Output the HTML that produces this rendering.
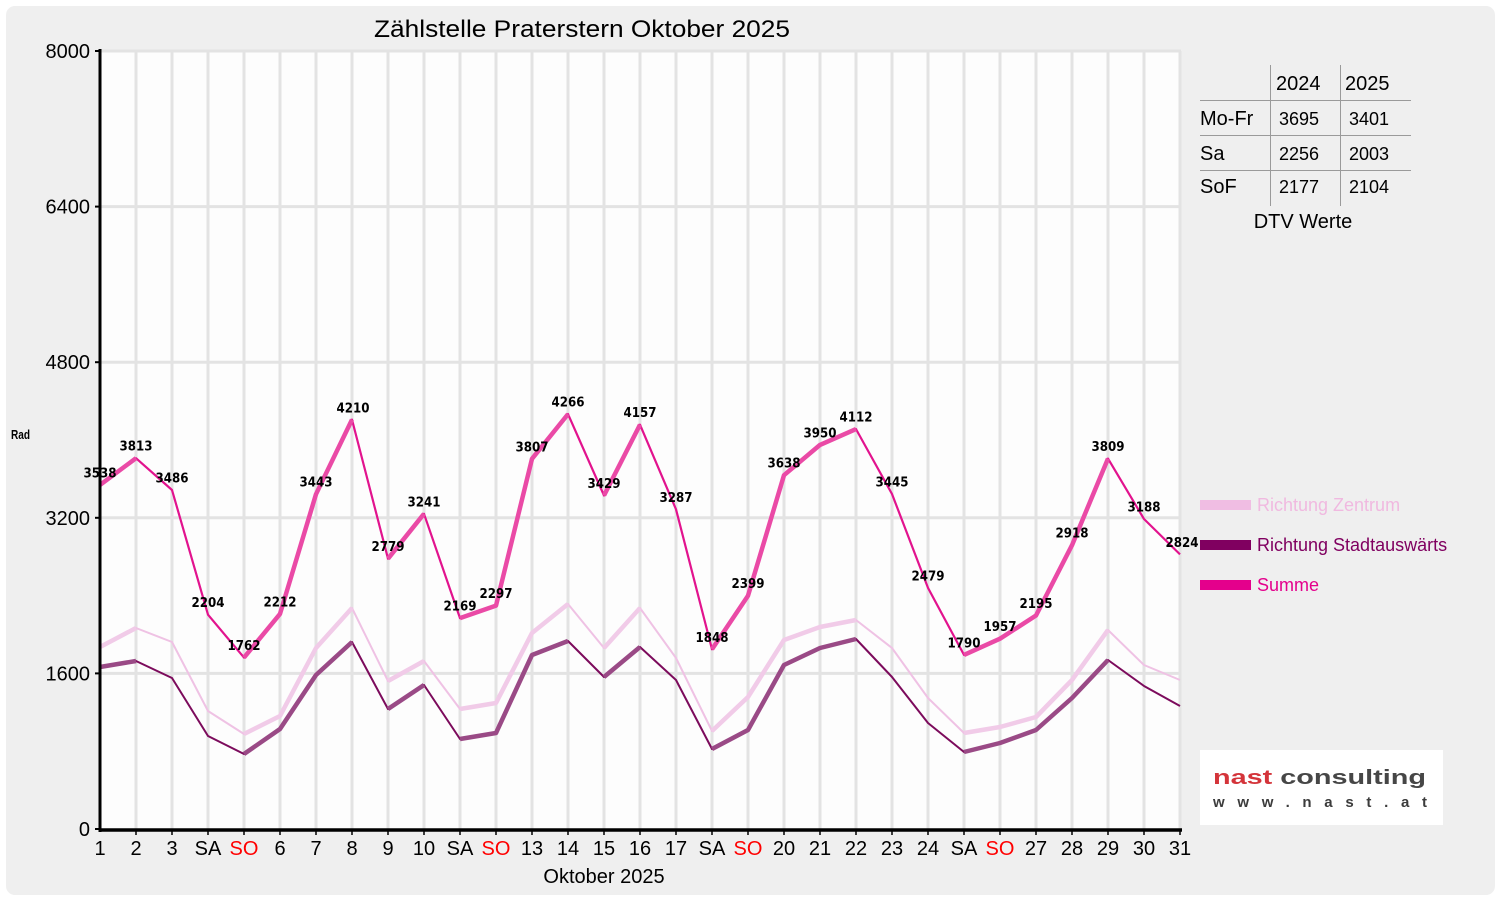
<!DOCTYPE html>
<html><head><meta charset="utf-8"><style>
html,body{margin:0;padding:0;background:#fff;}
svg{display:block;}
text{font-family:"Liberation Sans","DejaVu Sans",sans-serif;}
.lbl{font-family:"DejaVu Sans","Liberation Sans",sans-serif;font-weight:bold;font-size:13.5px;fill:#000;text-anchor:middle;}
.tk{font-size:20px;fill:#000;}
</style></head><body>
<svg width="1500" height="900" viewBox="0 0 1500 900" xmlns="http://www.w3.org/2000/svg">
<rect x="0" y="0" width="1500" height="900" fill="#ffffff"/>
<rect x="6" y="6" width="1489" height="889" rx="9" ry="9" fill="#efefef"/>
<rect x="100" y="51" width="1081" height="778" fill="#fdfdfd"/>
<g stroke="#e3e3e3" stroke-width="3">
<line x1="136" y1="51" x2="136" y2="829"/><line x1="172" y1="51" x2="172" y2="829"/><line x1="208" y1="51" x2="208" y2="829"/><line x1="244" y1="51" x2="244" y2="829"/><line x1="280" y1="51" x2="280" y2="829"/><line x1="316" y1="51" x2="316" y2="829"/><line x1="352" y1="51" x2="352" y2="829"/><line x1="388" y1="51" x2="388" y2="829"/><line x1="424" y1="51" x2="424" y2="829"/><line x1="460" y1="51" x2="460" y2="829"/><line x1="496" y1="51" x2="496" y2="829"/><line x1="532" y1="51" x2="532" y2="829"/><line x1="568" y1="51" x2="568" y2="829"/><line x1="604" y1="51" x2="604" y2="829"/><line x1="640" y1="51" x2="640" y2="829"/><line x1="676" y1="51" x2="676" y2="829"/><line x1="712" y1="51" x2="712" y2="829"/><line x1="748" y1="51" x2="748" y2="829"/><line x1="784" y1="51" x2="784" y2="829"/><line x1="820" y1="51" x2="820" y2="829"/><line x1="856" y1="51" x2="856" y2="829"/><line x1="892" y1="51" x2="892" y2="829"/><line x1="928" y1="51" x2="928" y2="829"/><line x1="964" y1="51" x2="964" y2="829"/><line x1="1000" y1="51" x2="1000" y2="829"/><line x1="1036" y1="51" x2="1036" y2="829"/><line x1="1072" y1="51" x2="1072" y2="829"/><line x1="1108" y1="51" x2="1108" y2="829"/><line x1="1144" y1="51" x2="1144" y2="829"/><line x1="1180" y1="51" x2="1180" y2="829"/>
<line x1="100" y1="51" x2="1181" y2="51"/><line x1="100" y1="206.6" x2="1181" y2="206.6"/><line x1="100" y1="362.2" x2="1181" y2="362.2"/><line x1="100" y1="517.8" x2="1181" y2="517.8"/><line x1="100" y1="673.4" x2="1181" y2="673.4"/>
</g>
<!-- Zentrum -->
<polyline fill="none" stroke="#efc2e4" stroke-width="2" stroke-linejoin="round" points="100,647 136,628 172,642 208,711 244,734 280,716 316,648 352,608 388,681 424,661 460,709 496,703 532,633 568,604 604,648 640,608 676,658 712,731 748,697 784,640 820,627 856,620 892,648 928,698 964,733 1000,727 1036,717 1072,680 1108,630 1144,665 1180,680"/>
<path fill="none" stroke="#f1cbe8" stroke-width="4.5" stroke-linejoin="round" d="M100,647L136,628 M244,734L280,716L316,648L352,608 M388,681L424,661 M460,709L496,703L532,633L568,604 M604,648L640,608 M712,731L748,697L784,640L820,627L856,620 M964,733L1000,727L1036,717L1072,680L1108,630"/>
<!-- Stadtauswaerts -->
<polyline fill="none" stroke="#7c0b5c" stroke-width="2" stroke-linejoin="round" points="100,667 136,661 172,678 208,736 244,754 280,729 316,675 352,642 388,709 424,685 460,739 496,733 532,655 568,641 604,677 640,647 676,680 712,749 748,730 784,665 820,648 856,639 892,677 928,723 964,752 1000,743 1036,730 1072,698 1108,660 1144,686 1180,706"/>
<path fill="none" stroke="#9a4a86" stroke-width="4.5" stroke-linejoin="round" d="M100,667L136,661 M244,754L280,729L316,675L352,642 M388,709L424,685 M460,739L496,733L532,655L568,641 M604,677L640,647 M712,749L748,730L784,665L820,648L856,639 M964,752L1000,743L1036,730L1072,698L1108,660"/>
<!-- Summe -->
<polyline fill="none" stroke="#e2138e" stroke-width="2.2" stroke-linejoin="round" points="100,484.9 136,458.2 172,490.0 208,614.7 244,657.6 280,613.9 316,494.2 352,419.6 388,558.7 424,513.8 460,618.1 496,605.6 532,458.8 568,414.1 604,495.5 640,424.7 676,509.3 712,649.3 748,595.7 784,475.2 820,444.9 856,429.1 892,494.0 928,587.9 964,654.9 1000,638.7 1036,615.5 1072,545.2 1108,458.6 1144,519.0 1180,554.4"/>
<path fill="none" stroke="#ea4aa6" stroke-width="4.5" stroke-linejoin="round" d="M100,484.9L136,458.2 M244,657.6L280,613.9L316,494.2L352,419.6 M388,558.7L424,513.8 M460,618.1L496,605.6L532,458.8L568,414.1 M604,495.5L640,424.7 M712,649.3L748,595.7L784,475.2L820,444.9L856,429.1 M964,654.9L1000,638.7L1036,615.5L1072,545.2L1108,458.6"/>
<!-- value labels -->
<g>
<text class="lbl" x="100" y="477.4" textLength="33" lengthAdjust="spacingAndGlyphs">3538</text>
<text class="lbl" x="136" y="450.7" textLength="33" lengthAdjust="spacingAndGlyphs">3813</text>
<text class="lbl" x="172" y="482.5" textLength="33" lengthAdjust="spacingAndGlyphs">3486</text>
<text class="lbl" x="208" y="607.2" textLength="33" lengthAdjust="spacingAndGlyphs">2204</text>
<text class="lbl" x="244" y="650.1" textLength="33" lengthAdjust="spacingAndGlyphs">1762</text>
<text class="lbl" x="280" y="606.4" textLength="33" lengthAdjust="spacingAndGlyphs">2212</text>
<text class="lbl" x="316" y="486.7" textLength="33" lengthAdjust="spacingAndGlyphs">3443</text>
<text class="lbl" x="353" y="412.3" textLength="33" lengthAdjust="spacingAndGlyphs">4210</text>
<text class="lbl" x="388" y="551.2" textLength="33" lengthAdjust="spacingAndGlyphs">2779</text>
<text class="lbl" x="424" y="506.3" textLength="33" lengthAdjust="spacingAndGlyphs">3241</text>
<text class="lbl" x="460" y="610.6" textLength="33" lengthAdjust="spacingAndGlyphs">2169</text>
<text class="lbl" x="496" y="598.1" textLength="33" lengthAdjust="spacingAndGlyphs">2297</text>
<text class="lbl" x="532" y="451.3" textLength="33" lengthAdjust="spacingAndGlyphs">3807</text>
<text class="lbl" x="568" y="406.6" textLength="33" lengthAdjust="spacingAndGlyphs">4266</text>
<text class="lbl" x="604" y="488" textLength="33" lengthAdjust="spacingAndGlyphs">3429</text>
<text class="lbl" x="640" y="417.2" textLength="33" lengthAdjust="spacingAndGlyphs">4157</text>
<text class="lbl" x="676" y="501.8" textLength="33" lengthAdjust="spacingAndGlyphs">3287</text>
<text class="lbl" x="712" y="641.8" textLength="33" lengthAdjust="spacingAndGlyphs">1848</text>
<text class="lbl" x="748" y="588.2" textLength="33" lengthAdjust="spacingAndGlyphs">2399</text>
<text class="lbl" x="784" y="467.7" textLength="33" lengthAdjust="spacingAndGlyphs">3638</text>
<text class="lbl" x="820" y="437.4" textLength="33" lengthAdjust="spacingAndGlyphs">3950</text>
<text class="lbl" x="856" y="421.6" textLength="33" lengthAdjust="spacingAndGlyphs">4112</text>
<text class="lbl" x="892" y="486.5" textLength="33" lengthAdjust="spacingAndGlyphs">3445</text>
<text class="lbl" x="928" y="580.4" textLength="33" lengthAdjust="spacingAndGlyphs">2479</text>
<text class="lbl" x="964" y="647.4" textLength="33" lengthAdjust="spacingAndGlyphs">1790</text>
<text class="lbl" x="1000" y="631.2" textLength="33" lengthAdjust="spacingAndGlyphs">1957</text>
<text class="lbl" x="1036" y="608" textLength="33" lengthAdjust="spacingAndGlyphs">2195</text>
<text class="lbl" x="1072" y="537.7" textLength="33" lengthAdjust="spacingAndGlyphs">2918</text>
<text class="lbl" x="1108" y="451.1" textLength="33" lengthAdjust="spacingAndGlyphs">3809</text>
<text class="lbl" x="1144" y="511.5" textLength="33" lengthAdjust="spacingAndGlyphs">3188</text>
<text class="lbl" x="1182" y="546.9" textLength="33" lengthAdjust="spacingAndGlyphs">2824</text>
</g>
<!-- axes -->
<line x1="100" y1="49" x2="100" y2="832" stroke="#000" stroke-width="3"/>
<line x1="99" y1="830" x2="1182" y2="830" stroke="#000" stroke-width="3.5"/>
<g stroke="#000" stroke-width="2">
<line x1="95" y1="51" x2="100" y2="51"/><line x1="95" y1="206.6" x2="100" y2="206.6"/><line x1="95" y1="362.2" x2="100" y2="362.2"/><line x1="95" y1="517.8" x2="100" y2="517.8"/><line x1="95" y1="673.4" x2="100" y2="673.4"/><line x1="95" y1="829" x2="100" y2="829"/>
</g>
<g stroke="#000" stroke-width="1.5">
<line x1="136" y1="830" x2="136" y2="835"/><line x1="172" y1="830" x2="172" y2="835"/><line x1="208" y1="830" x2="208" y2="835"/><line x1="244" y1="830" x2="244" y2="835"/><line x1="280" y1="830" x2="280" y2="835"/><line x1="316" y1="830" x2="316" y2="835"/><line x1="352" y1="830" x2="352" y2="835"/><line x1="388" y1="830" x2="388" y2="835"/><line x1="424" y1="830" x2="424" y2="835"/><line x1="460" y1="830" x2="460" y2="835"/><line x1="496" y1="830" x2="496" y2="835"/><line x1="532" y1="830" x2="532" y2="835"/><line x1="568" y1="830" x2="568" y2="835"/><line x1="604" y1="830" x2="604" y2="835"/><line x1="640" y1="830" x2="640" y2="835"/><line x1="676" y1="830" x2="676" y2="835"/><line x1="712" y1="830" x2="712" y2="835"/><line x1="748" y1="830" x2="748" y2="835"/><line x1="784" y1="830" x2="784" y2="835"/><line x1="820" y1="830" x2="820" y2="835"/><line x1="856" y1="830" x2="856" y2="835"/><line x1="892" y1="830" x2="892" y2="835"/><line x1="928" y1="830" x2="928" y2="835"/><line x1="964" y1="830" x2="964" y2="835"/><line x1="1000" y1="830" x2="1000" y2="835"/><line x1="1036" y1="830" x2="1036" y2="835"/><line x1="1072" y1="830" x2="1072" y2="835"/><line x1="1108" y1="830" x2="1108" y2="835"/><line x1="1144" y1="830" x2="1144" y2="835"/><line x1="1180" y1="830" x2="1180" y2="835"/>
</g>
<!-- y tick labels -->
<g>
<text class="tk" x="90" y="58" text-anchor="end">8000</text>
<text class="tk" x="90" y="213.6" text-anchor="end">6400</text>
<text class="tk" x="90" y="369.2" text-anchor="end">4800</text>
<text class="tk" x="90" y="524.8" text-anchor="end">3200</text>
<text class="tk" x="90" y="680.4" text-anchor="end">1600</text>
<text class="tk" x="90" y="836" text-anchor="end">0</text>
</g>
<!-- x tick labels -->
<g>
<text x="100" y="855" text-anchor="middle" font-size="20">1</text>
<text x="136" y="855" text-anchor="middle" font-size="20">2</text>
<text x="172" y="855" text-anchor="middle" font-size="20">3</text>
<text x="208" y="855" text-anchor="middle" font-size="20">SA</text>
<text x="244" y="855" text-anchor="middle" font-size="20" fill="#ff0000">SO</text>
<text x="280" y="855" text-anchor="middle" font-size="20">6</text>
<text x="316" y="855" text-anchor="middle" font-size="20">7</text>
<text x="352" y="855" text-anchor="middle" font-size="20">8</text>
<text x="388" y="855" text-anchor="middle" font-size="20">9</text>
<text x="424" y="855" text-anchor="middle" font-size="20">10</text>
<text x="460" y="855" text-anchor="middle" font-size="20">SA</text>
<text x="496" y="855" text-anchor="middle" font-size="20" fill="#ff0000">SO</text>
<text x="532" y="855" text-anchor="middle" font-size="20">13</text>
<text x="568" y="855" text-anchor="middle" font-size="20">14</text>
<text x="604" y="855" text-anchor="middle" font-size="20">15</text>
<text x="640" y="855" text-anchor="middle" font-size="20">16</text>
<text x="676" y="855" text-anchor="middle" font-size="20">17</text>
<text x="712" y="855" text-anchor="middle" font-size="20">SA</text>
<text x="748" y="855" text-anchor="middle" font-size="20" fill="#ff0000">SO</text>
<text x="784" y="855" text-anchor="middle" font-size="20">20</text>
<text x="820" y="855" text-anchor="middle" font-size="20">21</text>
<text x="856" y="855" text-anchor="middle" font-size="20">22</text>
<text x="892" y="855" text-anchor="middle" font-size="20">23</text>
<text x="928" y="855" text-anchor="middle" font-size="20">24</text>
<text x="964" y="855" text-anchor="middle" font-size="20">SA</text>
<text x="1000" y="855" text-anchor="middle" font-size="20" fill="#ff0000">SO</text>
<text x="1036" y="855" text-anchor="middle" font-size="20">27</text>
<text x="1072" y="855" text-anchor="middle" font-size="20">28</text>
<text x="1108" y="855" text-anchor="middle" font-size="20">29</text>
<text x="1144" y="855" text-anchor="middle" font-size="20">30</text>
<text x="1180" y="855" text-anchor="middle" font-size="20">31</text>
</g>
<text x="604" y="883" text-anchor="middle" font-size="20">Oktober 2025</text>
<!-- title -->
<text x="374" y="37" font-size="24" textLength="416" lengthAdjust="spacingAndGlyphs">Zählstelle Praterstern Oktober 2025</text>
<!-- y axis label (tiny) -->
<text x="11" y="439" font-size="13" font-weight="bold" textLength="19" lengthAdjust="spacingAndGlyphs">Rad</text>
<!-- DTV table -->
<g stroke="#9a9a9a" stroke-width="1">
<line x1="1270.5" y1="65" x2="1270.5" y2="206"/>
<line x1="1340.5" y1="65" x2="1340.5" y2="206"/>
<line x1="1200" y1="100.5" x2="1411" y2="100.5"/>
<line x1="1200" y1="135.5" x2="1411" y2="135.5"/>
<line x1="1200" y1="170.5" x2="1411" y2="170.5"/>
</g>
<text x="1276" y="90" font-size="20">2024</text>
<text x="1345" y="90" font-size="20">2025</text>
<text x="1200" y="125" font-size="20">Mo-Fr</text>
<text x="1279" y="125" font-size="18">3695</text>
<text x="1349" y="125" font-size="18">3401</text>
<text x="1200" y="160" font-size="20">Sa</text>
<text x="1279" y="160" font-size="18">2256</text>
<text x="1349" y="160" font-size="18">2003</text>
<text x="1200" y="193" font-size="20">SoF</text>
<text x="1279" y="193" font-size="18">2177</text>
<text x="1349" y="193" font-size="18">2104</text>
<text x="1303" y="228" font-size="20" text-anchor="middle">DTV Werte</text>
<!-- legend -->
<rect x="1200" y="500" width="51" height="10" fill="#f0bde3"/>
<text x="1257" y="511" font-size="18" fill="#f0b9e0">Richtung Zentrum</text>
<rect x="1200" y="540" width="51" height="10" fill="#800060"/>
<text x="1257" y="551" font-size="18" fill="#800060">Richtung Stadtauswärts</text>
<rect x="1200" y="580" width="51" height="10" fill="#e4008c"/>
<text x="1257" y="591" font-size="18" fill="#e4008c">Summe</text>
<!-- logo -->
<rect x="1200" y="750" width="243" height="75" fill="#ffffff"/>
<text x="1213" y="784" font-size="20" font-weight="bold" textLength="213" lengthAdjust="spacingAndGlyphs" fill="#464646"><tspan fill="#d4343a">nast</tspan> consulting</text>
<text x="1213" y="807" font-size="15" font-weight="bold" fill="#3c3c3c" textLength="214" lengthAdjust="spacing">www.nast.at</text>
</svg>
</body></html>
